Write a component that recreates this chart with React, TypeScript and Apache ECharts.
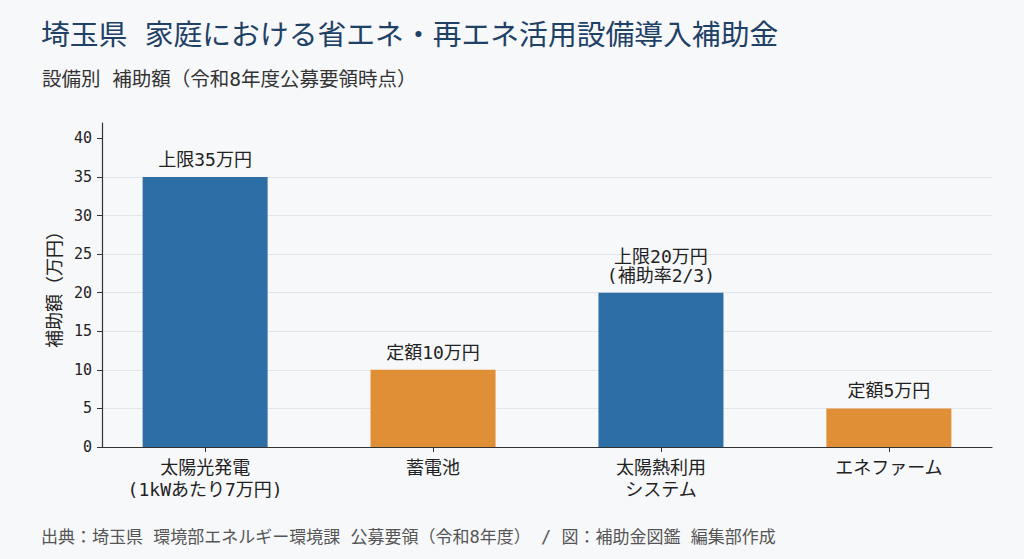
import React, { useEffect, useRef } from 'react';
import * as echarts from 'echarts';

const categories = ['太陽光発電\n(1kWあたり7万円)', '蓄電池', '太陽熱利用\nシステム', 'エネファーム'];
const amounts = [35, 10, 20, 5];
const barLabels = ['上限35万円', '定額10万円', '上限20万円\n(補助率2/3)', '定額5万円'];
const barColors = ['#2d6ea6', '#e08f36', '#2d6ea6', '#e08f36'];
const yTicks = [0, 5, 10, 15, 20, 25, 30, 35, 40];

const FONT = '"DejaVu Sans Mono", "Noto Sans CJK JP", monospace';

const App: React.FC = () => {
  const chartRef = useRef<HTMLDivElement>(null);

  useEffect(() => {
    document.body.style.margin = '0';
    if (!chartRef.current) return;
    const chart = echarts.init(chartRef.current, null, { renderer: 'svg' });

    const option = {
      animation: false,
      backgroundColor: '#f7f8fa',
      textStyle: { fontFamily: FONT },
      title: [
        {
          text: '埼玉県 家庭における省エネ・再エネ活用設備導入補助金',
          left: 36,
          top: 16,
          textStyle: { fontFamily: FONT, fontSize: 28.8, fontWeight: 'normal', color: '#1f4166' },
        },
        {
          text: '設備別 補助額（令和8年度公募要領時点）',
          left: 37,
          top: 65,
          textStyle: { fontFamily: FONT, fontSize: 19.5, fontWeight: 'normal', color: '#333333' },
        },
        {
          text: '出典：埼玉県 環境部エネルギー環境課 公募要領（令和8年度） / 図：補助金図鑑 編集部作成',
          left: 36,
          top: 523,
          textStyle: { fontFamily: FONT, fontSize: 17, fontWeight: 'normal', color: '#555555' },
        },
      ],
      grid: { left: 102, right: 32, top: 123, bottom: 112 },
      xAxis: {
        type: 'value',
        min: -0.4525,
        max: 3.4525,
        axisLine: { show: true, onZero: false, lineStyle: { color: '#333333', width: 1.2 } },
        axisTick: { show: true, length: 5, customValues: [0, 1, 2, 3], lineStyle: { color: '#333333' } },
        axisLabel: {
          customValues: [0, 1, 2, 3],
          formatter: (v: number) => categories[Math.round(v)] ?? '',
          fontFamily: FONT,
          fontSize: 18,
          color: '#222222',
          lineHeight: 22,
          margin: 9,
        },
        splitLine: { show: false },
      },
      yAxis: {
        type: 'value',
        min: 0,
        max: 42,
        interval: 5,
        name: '補助額（万円）',
        nameLocation: 'middle',
        nameGap: 33,
        nameTextStyle: { fontFamily: FONT, fontSize: 18, color: '#222222' },
        axisLine: { show: true, onZero: false, lineStyle: { color: '#333333', width: 1.2 } },
        axisTick: { show: true, length: 5, customValues: yTicks, lineStyle: { color: '#333333' } },
        axisLabel: {
          customValues: yTicks,
          fontFamily: FONT,
          fontSize: 15,
          color: '#222222',
          margin: 10,
        },
        splitLine: { show: true, showMaxLine: false, showMinLine: false, lineStyle: { color: '#e2e5eb', width: 1 } },
      },
      series: [
        {
          type: 'bar',
          barWidth: 125,
          data: amounts.map((v, i) => ({
            value: [i, v],
            itemStyle: { color: barColors[i] },
            label: { formatter: barLabels[i] },
          })),
          label: {
            show: true,
            position: 'top',
            distance: 8,
            fontFamily: FONT,
            fontSize: 18,
            lineHeight: 19,
            color: '#222222',
          },
        },
      ],
    };

    chart.setOption(option);
    return () => {
      chart.dispose();
    };
  }, []);

  return <div ref={chartRef} style={{ width: 1024, height: 559 }} />;
};

export default App;
